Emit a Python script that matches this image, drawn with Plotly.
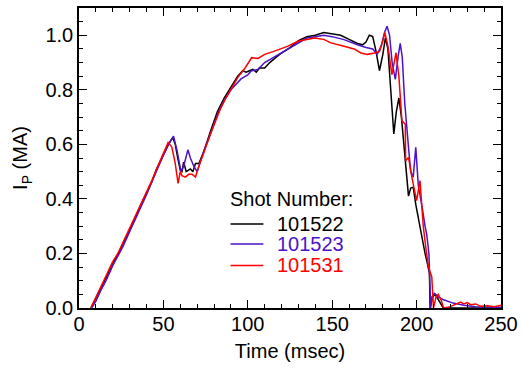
import plotly.graph_objects as go

# Shot 101522 (black)
t_101522 = [7, 10, 13, 16, 20, 23, 26, 30, 33, 36, 40, 43, 46, 50, 53, 55.5, 57, 58.5, 60, 61,
            62, 63.5, 65, 66, 67.5, 69, 71, 74, 78, 82, 86, 90, 94, 97, 99, 101, 103, 105, 107,
            110, 113, 116, 120, 125, 130, 135, 140, 145, 150, 155, 160, 165, 168, 170, 172, 174,
            176, 178, 180, 181.5, 183, 185, 186.5, 188, 189.5, 191, 193, 195.2, 196.5, 198,
            199.5, 201, 203, 205, 206.5, 207.6, 208, 209.5, 211, 213, 215.8, 220, 230, 240, 250]
ip_101522 = [0.0, 0.035, 0.07, 0.11, 0.165, 0.195, 0.235, 0.285, 0.325, 0.37, 0.42, 0.46, 0.51,
             0.56, 0.6, 0.625, 0.6, 0.55, 0.505, 0.5, 0.535, 0.5, 0.505, 0.51, 0.5, 0.53, 0.53,
             0.575, 0.65, 0.72, 0.77, 0.81, 0.85, 0.87, 0.865, 0.87, 0.875, 0.865, 0.88, 0.88,
             0.9, 0.915, 0.935, 0.955, 0.98, 0.995, 1.0, 1.01, 1.005, 1.0, 0.985, 0.97, 0.965,
             0.975, 1.0, 0.995, 0.94, 0.87, 0.93, 0.99, 0.95, 0.75, 0.638, 0.72, 0.77, 0.7, 0.55,
             0.41, 0.44, 0.443, 0.38, 0.327, 0.27, 0.2, 0.16, 0.127, 0.0, 0.04, 0.05, 0.03, 0.0,
             0.0, 0.0, 0.0, 0.0]

# Shot 101523 (blue)
t_101523 = [7.5, 10, 13, 16, 20, 23, 26, 30, 33, 36, 40, 43, 46, 50, 53, 56, 58, 60.4, 62, 64.5,
            66, 68, 70, 74, 78, 82, 86, 90, 96, 100, 102, 106, 110, 115, 120, 125, 130, 135, 140,
            145, 150, 157, 165, 170, 174, 176.6, 179, 181, 182.5, 184, 185.5, 187.4, 189, 190.3,
            191.5, 193, 195.2, 196.5, 198, 199.5, 201, 202.5, 203.6, 205, 206, 207.3, 208, 208.3,
            209, 210.5, 213, 216, 221.6, 228, 235, 250]
ip_101523 = [0.0, 0.025, 0.065, 0.1, 0.155, 0.19, 0.225, 0.28, 0.32, 0.365, 0.415, 0.46, 0.505,
             0.56, 0.6, 0.63, 0.58, 0.5, 0.52, 0.58, 0.55, 0.52, 0.5, 0.577, 0.64, 0.71, 0.76,
             0.8, 0.84, 0.855, 0.869, 0.875, 0.9, 0.918, 0.936, 0.955, 0.975, 0.99, 0.995, 1.0,
             0.995, 0.984, 0.965, 0.955, 0.95, 0.93, 0.96, 1.01, 1.033, 1.0, 0.9, 0.838, 0.92,
             0.97, 0.92, 0.75, 0.59, 0.5, 0.48, 0.589, 0.45, 0.4, 0.357, 0.3, 0.27, 0.2, 0.1,
             0.0, 0.04, 0.054, 0.04, 0.03, 0.018, 0.01, 0.005, 0.003]

# Shot 101531 (red)
t_101531 = [7, 10, 13, 16, 20, 23, 26, 30, 33, 36, 40, 43, 46, 50, 52.8, 55, 57, 58.7, 60, 61,
            63, 65, 67, 69, 71, 74, 78, 83.7, 87, 90.6, 94, 98.4, 102.3, 106, 110, 115, 120,
            123.8, 129.7, 135, 139.5, 145, 149.2, 157, 163, 167, 170.8, 175, 178, 180, 181.2,
            183, 185.4, 187.8, 189.5, 191.3, 193.3, 193.5, 195.2, 197.5, 200, 202, 204, 205.5,
            207, 209, 210, 211.5, 212.8, 214.5, 216, 220, 224, 226, 228, 230, 232, 235, 238,
            242, 246, 250]
ip_101531 = [0.0, 0.04, 0.075, 0.115, 0.17, 0.2, 0.24, 0.29, 0.33, 0.37, 0.425, 0.465, 0.51,
             0.565, 0.607, 0.59, 0.53, 0.457, 0.5, 0.485, 0.48, 0.49, 0.49, 0.48, 0.52, 0.57,
             0.64, 0.729, 0.77, 0.808, 0.845, 0.88, 0.918, 0.915, 0.93, 0.94, 0.95, 0.96, 0.978,
             0.985, 0.99, 0.985, 0.972, 0.96, 0.95, 0.935, 0.93, 0.935, 0.94, 0.98, 1.01, 0.96,
             0.856, 0.936, 0.85, 0.686, 0.674, 0.54, 0.552, 0.47, 0.394, 0.467, 0.297, 0.22,
             0.15, 0.114, 0.0, 0.04, 0.05, 0.03, 0.0, 0.005, 0.015, 0.022, 0.015, 0.02, 0.012,
             0.015, 0.006, 0.008, 0.005, 0.01]

shots = ["101522", "101523", "101531"]
colors = ["#000000", "#4C12C8", "#FF0000"]
series = [(t_101522, ip_101522), (t_101523, ip_101523), (t_101531, ip_101531)]

x_ticks = [0, 50, 100, 150, 200, 250]
y_ticks = [0.0, 0.2, 0.4, 0.6, 0.8, 1.0]
y_tick_labels = ["0.0", "0.2", "0.4", "0.6", "0.8", "1.0"]

FONT = "Liberation Sans, Arial, sans-serif"

fig = go.Figure()
for (tt, ii), name, col in zip(series, shots, colors):
    fig.add_trace(go.Scatter(x=tt, y=ii, mode="lines", name=name,
                             line=dict(color=col, width=1.5), showlegend=False))

axis_common = dict(
    showline=True, linecolor="black", linewidth=1.5, mirror="allticks",
    ticks="inside", ticklen=8, tickwidth=1.2, tickcolor="black",
    showgrid=False, zeroline=False,
    tickfont=dict(family=FONT, size=20, color="black"),
)

fig.update_xaxes(range=[0, 250], tickvals=x_ticks, ticklabelstandoff=-3,
                 minor=dict(dtick=10, ticks="inside", ticklen=4, tickcolor="black", tickwidth=1.2),
                 title=dict(text="Time (msec)", font=dict(family=FONT, size=20, color="black"),
                            standoff=10),
                 **axis_common)
fig.update_yaxes(range=[0, 1.1], tickvals=y_ticks, ticktext=y_tick_labels, ticklabelstandoff=0,
                 minor=dict(dtick=0.05, ticks="inside", ticklen=4, tickcolor="black", tickwidth=1.2),
                 title=dict(text="I<sub>P</sub> (MA)", font=dict(family=FONT, size=20, color="black"),
                            standoff=12),
                 **axis_common)

annotations = [dict(text="Shot Number:", x=0.352, y=0.364, xref="paper", yref="paper",
                    xanchor="left", yanchor="middle", showarrow=False,
                    font=dict(family=FONT, size=20, color="black"))]
shapes = []
legend_y = [0.28, 0.213, 0.142]
for name, col, ly in zip(shots, colors, legend_y):
    annotations.append(dict(text=name, x=0.465, y=ly, xref="paper", yref="paper",
                            xanchor="left", yanchor="middle", showarrow=False,
                            font=dict(family=FONT, size=20, color=col)))
    shapes.append(dict(type="line", x0=0.359, x1=0.437, y0=ly, y1=ly, xref="paper",
                       yref="paper", line=dict(color=col, width=1.5)))

fig.update_layout(
    width=524, height=370,
    margin=dict(l=79, r=19, t=6, b=62),
    paper_bgcolor="white", plot_bgcolor="white",
    annotations=annotations, shapes=shapes,
)

fig.write_html("out.html")
